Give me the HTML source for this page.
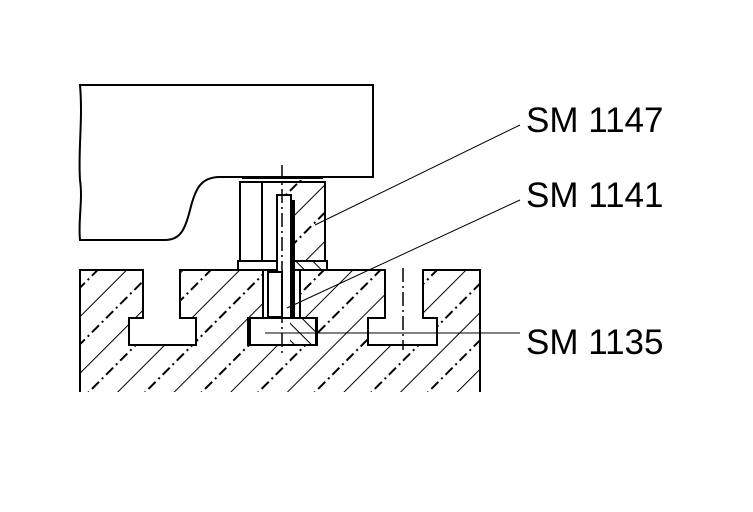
<!DOCTYPE html>
<html><head><style>body{margin:0;background:#fff}svg{display:block}</style></head><body>
<svg width="753" height="512" viewBox="0 0 753 512" xmlns="http://www.w3.org/2000/svg">
<defs>
<pattern id="h" patternUnits="userSpaceOnUse" width="40" height="40" patternTransform="rotate(45)">
<line x1="0" y1="0" x2="0" y2="40" stroke="#000" stroke-width="2"/>
<line x1="20" y1="0" x2="20" y2="40" stroke="#000" stroke-width="2" stroke-dasharray="10,4,2,4"/>
</pattern>
<pattern id="h2" patternUnits="userSpaceOnUse" width="12" height="12" patternTransform="rotate(-45)">
<line x1="0" y1="0" x2="0" y2="12" stroke="#000" stroke-width="2"/>
</pattern>
<clipPath id="base"><path d="M80,270 H143 V318 H129 V345 H196 V318 H180 V270 H263 V318 H248 V345 H317 V318 H300 V270 H385 V318 H368 V345 H437 V318 H423 V270 H480 V392 H80 Z"/></clipPath>
</defs>
<g fill="none" stroke="#000" stroke-width="2">
<path d="M80,85 H373 V177 H220 C200,177 195,190 190,210 C185,230 180,240 165,240 H80 C78,220 83,200 80,180 C78,150 83,120 80,85 Z"/>
<rect x="78" y="268" width="404" height="126" fill="url(#h)" stroke="none" clip-path="url(#base)"/>
<path d="M80,392 V270 H143 V318 H129 V345 H196 V318 H180 V270 H263 V318 H248 V345 H317 V318 H300 V270 H385 V318 H368 V345 H437 V318 H423 V270 H480 V392"/>
<rect x="240" y="182" width="85" height="80" fill="#fff"/>
<rect x="282" y="180" width="43" height="80" fill="url(#h)" stroke="none"/>
<line x1="262" y1="182" x2="262" y2="260"/>
<line x1="242" y1="178" x2="323" y2="178"/>
<rect x="238" y="261" width="89" height="9" fill="#fff"/>
<rect x="290" y="262" width="36" height="7" fill="url(#h2)" stroke="none"/>
<rect x="277" y="195" width="14" height="140" fill="#fff"/>
<rect x="290" y="200" width="5" height="135" fill="#000" stroke="none"/>
<rect x="250" y="318" width="66" height="27" fill="#fff"/>
<rect x="290" y="318" width="26" height="26" fill="url(#h2)" stroke="none"/>
<rect x="268" y="272" width="14" height="45" fill="#fff"/>
</g>
<g stroke="#000" stroke-width="1.5" stroke-dasharray="14,4,2,4">
<line x1="282" y1="165" x2="282" y2="355"/>
<line x1="403" y1="268" x2="403" y2="350"/>
</g>
<g stroke="#000" stroke-width="1">
<line x1="315" y1="225" x2="520" y2="125"/>
<line x1="287" y1="308" x2="520" y2="200"/>
<line x1="265" y1="333" x2="520" y2="333"/>
</g>
<g font-family="Liberation Sans, sans-serif" font-size="35" fill="#000">
<text x="526" y="132">SM 1147</text>
<text x="526" y="207">SM 1141</text>
<text x="526" y="354">SM 1135</text>
</g>
</svg>
</body></html>
